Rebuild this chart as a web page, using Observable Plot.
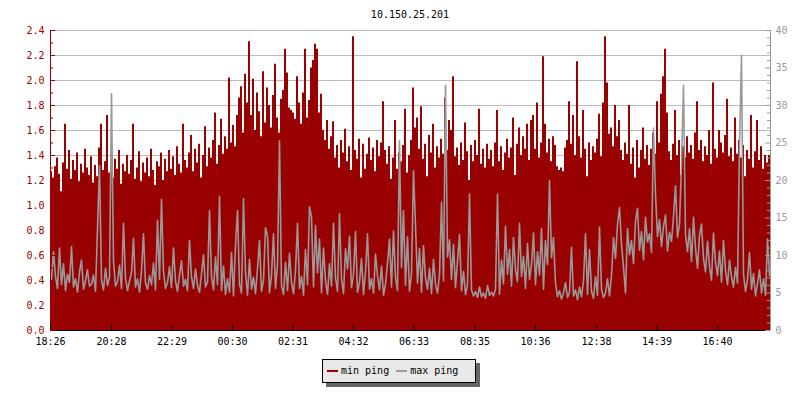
<!DOCTYPE html>
<html>
<head>
<meta charset="utf-8">
<script src="https://cdn.jsdelivr.net/npm/d3@7"></script>
<script src="https://cdn.jsdelivr.net/npm/@observablehq/plot@0.6"></script>
<style>
  body { margin: 0; background: #fff; }
  #wrap { position: relative; width: 800px; height: 400px; font-family: "DejaVu Sans Mono", monospace; }
  #title { position: absolute; left: 50px; width: 720px; top: 10px; text-align: center; font-size: 10px; line-height: 10px; color: #000; }
  #legend { position: absolute; left: 322px; top: 359px; width: 152px; height: 22px; background: #e8e8e8; border: 1px solid #000;
            box-shadow: 4px 4px 0 #666; font-size: 10px; line-height: 22px; white-space: nowrap; }
  #legend .sw { display: inline-block; width: 11px; height: 2px; vertical-align: middle; margin-right: 3px; }
  #legend .item { display: inline-block; }
  #chart svg { display: block; }
</style>
</head>
<body>
<div id="wrap">
  <div id="chart"></div>
  <div id="title"></div>
  <div id="legend"></div>
</div>
<script>
const title = "10.150.25.201";
const seriesNames = ["min ping", "max ping"];
const seriesColors = ["#990000", "#999999"];
const xLabels = ["18:26","20:28","22:29","00:30","02:31","04:32","06:33","08:35","10:36","12:38","14:39","16:40"];
const startLabel = "18:26";
const spanMinutes = 1440;
const stepMinutes = 4;
const leftTicks = [0.0,0.2,0.4,0.6,0.8,1.0,1.2,1.4,1.6,1.8,2.0,2.2,2.4];
const leftMinor = [0.1,0.3,0.5,0.7,0.9,1.1,1.3,1.5,1.7,1.9,2.1,2.3];
const rightTicks = [0,5,10,15,20,25,30,35,40];
const rightMinor = [1,2,3,4,6,7,8,9,11,12,13,14,16,17,18,19,21,22,23,24,26,27,28,29,31,32,33,34,36,37,38,39];
const leftMax = 2.4, rightMax = 40;

// min ping (left axis), one value per 4 minutes
const minPing = [
1.27,1.22,1.31,1.38,1.25,1.11,1.34,1.65,1.29,1.44,1.21,1.36,1.28,1.42,1.19,1.33,1.26,1.45,1.30,1.24,
1.39,1.18,1.32,1.23,1.46,1.65,1.28,1.35,1.72,1.26,1.41,1.22,1.37,1.29,1.44,1.17,1.33,1.27,1.40,1.25,
1.36,1.65,1.21,1.30,1.43,1.19,1.34,1.26,1.38,1.23,1.45,1.28,1.16,1.35,1.31,1.42,1.20,1.37,1.27,1.44,
1.29,1.39,1.24,1.47,1.33,1.26,1.65,1.36,1.30,1.42,1.56,1.27,1.45,1.34,1.49,1.22,1.40,1.63,1.31,1.46,
1.38,1.52,1.74,1.33,1.48,1.69,1.41,1.55,1.45,2.02,1.50,1.64,1.47,1.72,1.86,1.95,1.58,2.05,1.82,2.31,
1.72,2.01,1.60,1.90,1.75,1.55,2.07,1.66,1.94,1.80,1.62,1.88,2.13,1.70,1.58,1.85,1.92,2.25,2.06,1.78,
1.76,1.74,1.69,2.03,1.82,1.65,1.90,2.25,1.70,1.84,2.10,2.16,2.29,2.25,1.74,1.89,1.60,1.52,1.68,1.45,
1.55,1.67,1.38,1.48,1.30,1.52,1.42,1.61,1.35,1.47,1.28,2.35,1.44,1.37,1.53,1.22,1.49,1.29,1.41,1.54,
1.36,1.46,1.27,1.52,1.39,1.50,1.83,1.44,1.33,1.47,1.21,1.38,1.68,1.29,1.42,1.35,1.48,1.77,1.26,1.40,
1.52,1.94,1.62,1.70,1.45,1.79,1.37,1.49,1.23,1.56,1.42,1.65,1.30,1.47,1.38,1.53,1.41,1.86,1.44,1.68,
1.60,2.03,1.39,1.46,1.32,1.50,1.36,1.66,1.43,1.20,1.48,1.35,1.52,1.40,1.77,1.33,1.45,1.30,1.49,1.37,
1.44,1.31,1.50,1.76,1.35,1.47,1.28,1.42,1.53,1.38,1.46,1.70,1.24,1.49,1.62,1.40,1.55,1.45,1.65,1.36,
1.68,1.72,1.45,1.82,1.38,1.50,2.19,1.65,1.42,1.53,1.35,1.55,1.48,1.31,1.28,1.30,1.27,1.46,1.52,1.83,
1.49,1.72,1.40,2.15,1.55,1.38,1.76,1.45,1.23,1.50,1.36,1.47,1.42,1.53,1.73,1.39,1.82,2.35,1.98,1.57,
1.62,1.47,1.80,1.55,1.68,1.44,1.36,1.50,1.41,1.80,1.33,1.46,1.22,1.52,1.30,1.44,1.62,1.37,1.48,1.32,
1.45,1.58,1.41,1.83,1.50,1.89,2.03,2.25,1.74,1.43,1.36,1.49,1.76,1.40,1.52,1.24,1.47,1.38,1.55,1.42,
1.48,1.37,1.58,1.83,1.44,1.52,1.35,1.47,1.40,1.60,1.33,1.98,1.45,1.38,1.60,1.50,1.42,1.56,1.85,1.39,
1.46,1.35,1.70,1.41,1.52,1.38,1.48,1.23,1.44,1.37,1.72,1.30,1.43,1.68,1.36,1.47,1.29,1.40,1.34,1.40
];

// max ping (right axis), one value per 4 minutes
const maxPing = [
6.8,10.5,7.2,5.6,11.0,6.1,8.9,5.3,7.5,6.4,11.2,5.8,6.9,5.1,7.8,9.4,5.5,6.6,8.1,5.9,
6.2,7.4,5.2,13.6,22.0,6.7,5.4,8.3,6.0,7.1,31.6,9.2,5.9,6.5,8.7,5.6,14.3,7.0,5.3,6.6,
7.7,12.3,5.8,6.9,5.1,8.0,12.9,6.3,5.5,7.3,6.1,9.0,5.4,14.7,6.8,17.5,7.9,5.6,6.4,8.5,
5.7,11.0,6.6,5.2,7.4,9.3,5.9,6.8,5.3,12.0,7.1,5.6,8.2,6.0,5.1,7.6,10.1,5.8,6.5,16.0,
7.2,5.4,9.8,6.1,17.9,5.3,8.6,4.8,6.9,5.1,10.4,4.6,11.4,16.0,6.2,5.0,17.6,7.8,4.7,9.5,
5.5,7.1,4.9,8.3,12.0,5.2,6.7,13.7,12.6,5.0,7.4,12.9,5.6,8.8,25.3,6.0,4.8,9.1,5.3,10.3,
6.4,4.9,8.0,14.3,5.6,7.2,4.7,10.8,6.1,16.5,15.1,5.8,14.0,7.7,12.2,5.0,11.0,6.6,4.8,8.9,
5.9,14.3,7.0,5.2,15.6,6.8,4.9,10.9,8.2,12.6,5.7,7.5,13.2,5.1,6.4,9.6,4.8,7.9,12.9,5.5,
6.9,5.0,10.2,7.3,5.4,8.6,4.7,6.2,9.0,12.2,5.8,13.3,7.1,5.3,25.3,8.4,16.0,6.0,12.5,5.2,
7.6,21.3,14.0,6.3,10.9,5.1,11.3,7.0,5.5,8.3,4.9,9.5,6.2,5.0,7.4,17.1,6.6,32.7,9.8,12.1,
6.8,11.5,5.7,9.2,12.8,5.3,7.9,4.8,6.1,18.2,5.4,4.6,5.2,4.4,5.8,4.5,5.0,4.3,6.0,4.7,
5.1,4.6,5.5,18.2,4.8,9.4,6.2,13.9,7.5,10.8,5.9,12.4,8.1,6.5,14.3,7.2,9.9,5.6,11.6,6.8,
8.7,13.0,6.1,10.5,7.4,13.6,5.5,12.0,8.8,20.0,9.7,12.4,6.3,4.5,5.3,4.2,5.0,6.4,4.4,5.1,
11.1,4.6,5.4,4.1,5.8,4.5,6.6,12.9,4.8,10.8,5.2,4.3,7.2,4.7,13.8,5.5,4.4,5.0,6.9,4.6,
7.3,12.4,9.6,14.2,16.4,11.5,8.4,5.0,13.6,10.1,12.0,8.9,14.6,16.3,10.7,13.2,9.4,15.1,11.8,12.9,
10.4,27.0,18.2,12.5,14.8,11.2,13.9,15.4,10.6,13.1,11.9,15.2,19.3,12.4,14.1,22.4,32.7,12.8,10.5,13.6,
9.2,15.1,11.0,8.3,12.7,14.2,9.6,7.8,11.9,8.5,6.7,13.0,9.1,7.3,10.6,6.4,12.0,8.0,6.1,9.4,
7.1,5.8,8.4,6.3,24.7,36.7,7.5,5.2,6.8,10.4,5.5,7.6,4.6,6.2,8.1,5.0,6.9,4.7,12.2,7.3
];

// ---- build ----
const k = leftMax / rightMax;
const toMin = s => { const [h, m] = s.split(":").map(Number); return h * 60 + m; };
const start = toMin(startLabel);
const xTickPos = xLabels.map(s => ((toMin(s) - start) + 1440) % 1440);
const labelAt = new Map(xTickPos.map((p, i) => [p, xLabels[i]]));
const data = minPing.map((v, i) => ({t: i * stepMinutes, min: v, max: maxPing[i]}));

const W = 800, H = 400, mL = 50, mR = 30, mT = 30, mB = 70;
const fw = W - mL - mR, fh = H - mT - mB;
const red = seriesColors[0], gray = seriesColors[1];

const chart = Plot.plot({
  width: W, height: H,
  marginLeft: mL, marginRight: mR, marginTop: mT, marginBottom: mB,
  x: {type: "linear", domain: [0, spanMinutes], label: null},
  y: {domain: [0, leftMax], label: null},
  style: {fontFamily: '"DejaVu Sans Mono", monospace', fontSize: "10px", background: "#fff", overflow: "visible"},
  marks: [
    Plot.ruleY(leftTicks.filter(d => d > 0), {stroke: "#bbbbbb", strokeWidth: 1}),
    Plot.rectY(data, {x1: "t", x2: d => d.t + stepMinutes, y: "min", fill: red}),
    Plot.lineY(data, {x: d => d.t + stepMinutes / 2, y: d => d.max * k, stroke: gray, strokeWidth: 1.6, curve: "linear"}),
    // axis lines
    Plot.ruleX([0], {stroke: red}),
    Plot.ruleX([spanMinutes], {stroke: gray}),
    Plot.ruleY([0], {stroke: "#000"}),
    // inward ticks
    Plot.tickY(leftTicks, {y: d => d, stroke: red, insetRight: fw - 5}),
    Plot.tickY(leftMinor, {y: d => d, stroke: red, insetRight: fw - 3}),
    Plot.tickY(rightTicks.map(d => d * k), {y: d => d, stroke: gray, insetLeft: fw - 5}),
    Plot.tickY(rightMinor.map(d => d * k), {y: d => d, stroke: gray, insetLeft: fw - 3}),
    Plot.tickX(xTickPos, {x: d => d, stroke: "#000", insetTop: fh - 5}),
    // labels
    Plot.axisY(leftTicks, {anchor: "left", tickSize: 0, tickPadding: 6, fill: red, label: null, tickFormat: d => d.toFixed(1)}),
    Plot.axisY(rightTicks.map(d => d * k), {anchor: "right", tickSize: 0, tickPadding: 5, fill: gray, label: null, tickFormat: d => String(Math.round(d / k))}),
    Plot.axisX(xTickPos, {anchor: "bottom", tickSize: 0, tickPadding: 7, fill: "#000", label: null, tickFormat: d => labelAt.get(d)})
  ]
});
document.getElementById("chart").appendChild(chart);
document.getElementById("title").textContent = title;

const legend = document.getElementById("legend");
seriesNames.forEach((name, i) => {
  const item = document.createElement("span");
  item.className = "item";
  item.style.marginLeft = i === 0 ? "4px" : "7px";
  const sw = document.createElement("span");
  sw.className = "sw";
  sw.style.background = seriesColors[i];
  item.appendChild(sw);
  item.appendChild(document.createTextNode(name));
  legend.appendChild(item);
});
</script>
</body>
</html>
